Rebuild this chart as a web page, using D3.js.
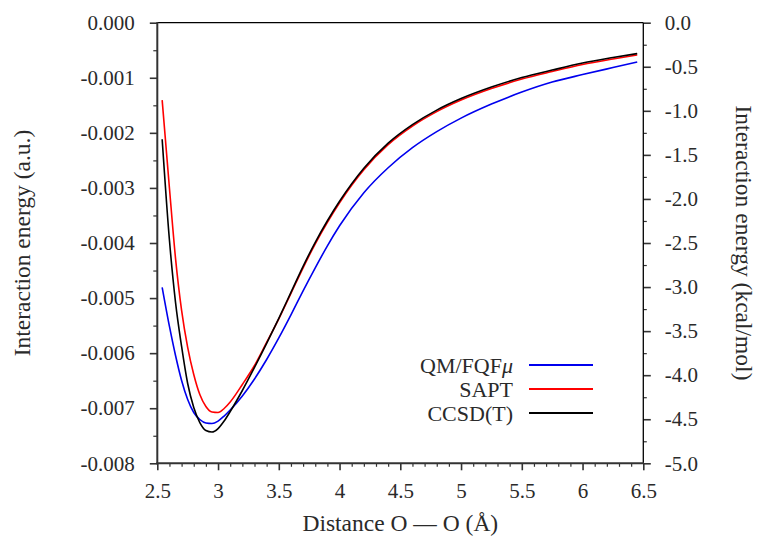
<!DOCTYPE html>
<html>
<head>
<meta charset="utf-8">
<script src="https://cdn.jsdelivr.net/npm/d3@7/dist/d3.min.js"></script>
<style>
  html, body { margin: 0; padding: 0; background: #fff; }
</style>
</head>
<body>
<svg id="chart" width="760" height="541"></svg>
<script>
// O–O distance grid (Å)
const distance = [2.54, 2.6, 2.65, 2.7, 2.75, 2.8, 2.85, 2.9, 2.95, 3.0, 3.05, 3.1, 3.2, 3.3, 3.4, 3.5,
  3.6, 3.7, 3.8, 3.9, 4.0, 4.2, 4.4, 4.6, 4.8, 5.0, 5.25, 5.5, 5.75, 6.0, 6.25, 6.45];

// Interaction energies (hartree)
const qmFqfmu = [-0.004805, -0.005515, -0.006042, -0.006496, -0.006842, -0.007078, -0.007205, -0.007269,
  -0.007278, -0.007233, -0.007142, -0.007033, -0.006778, -0.006469, -0.006115, -0.005724,
  -0.005305, -0.004869, -0.004451, -0.004051, -0.003687, -0.003087, -0.002633, -0.002269,
  -0.001978, -0.001733, -0.001478, -0.001260, -0.001078, -0.000942, -0.000815, -0.000715];

const sapt = [-0.001405, -0.003005, -0.004278, -0.005224, -0.005896, -0.006387, -0.006751, -0.006969,
  -0.007069, -0.007078, -0.007005, -0.006887, -0.006569, -0.006224, -0.005805, -0.005378,
  -0.004915, -0.004451, -0.004015, -0.003624, -0.003269, -0.002669, -0.002215, -0.001878,
  -0.001615, -0.001405, -0.001196, -0.001024, -0.000887, -0.000760, -0.000660, -0.000587];

const ccsdT = [-0.002115, -0.003951, -0.005078, -0.005878, -0.006551, -0.006987, -0.007260, -0.007405,
  -0.007433, -0.007369, -0.007233, -0.007060, -0.006678, -0.006260, -0.005824, -0.005369,
  -0.004896, -0.004424, -0.003987, -0.003596, -0.003242, -0.002642, -0.002187, -0.001851,
  -0.001587, -0.001378, -0.001169, -0.000996, -0.000860, -0.000733, -0.000633, -0.000560];

const seriesNames = ["QM/FQF", "SAPT", "CCSD(T)"];
const seriesColors = ["#0000ee", "#ff0000", "#000000"];

// Tick values and labels
const xTicks = [2.5, 3, 3.5, 4, 4.5, 5, 5.5, 6, 6.5];
const xTickLabels = ["2.5", "3", "3.5", "4", "4.5", "5", "5.5", "6", "6.5"];
const yTicks = [0, -0.001, -0.002, -0.003, -0.004, -0.005, -0.006, -0.007, -0.008];
const yTickLabels = ["0.000", "-0.001", "-0.002", "-0.003", "-0.004", "-0.005", "-0.006", "-0.007", "-0.008"];
const y2Ticks = [0, -0.5, -1, -1.5, -2, -2.5, -3, -3.5, -4, -4.5, -5];
const y2TickLabels = ["0.0", "-0.5", "-1.0", "-1.5", "-2.0", "-2.5", "-3.0", "-3.5", "-4.0", "-4.5", "-5.0"];

const FONT = "'Liberation Serif', 'DejaVu Serif', 'Noto Serif', serif";
const tickFontSize = 21;
const titleFontSize = 23.5;
const legendFontSize = 22;

const plot = { left: 157.3, right: 643.3, top: 22.7, bottom: 463.3 };

const svg = d3.select("#chart");

const x = d3.scaleLinear().domain([2.5, 6.5]).range([plot.left, plot.right]);
const y = d3.scaleLinear().domain([-0.008, 0]).range([plot.bottom, plot.top]);
const y2 = d3.scaleLinear().domain([-5, 0]).range([plot.bottom, plot.top]);

// minor ticks
const xMinor = d3.range(25, 66).map(d => d / 10).filter(d => !xTicks.some(t => Math.abs(t - d) < 1e-9));
const yMinor = d3.range(0, 17).map(d => -d * 0.0005).filter((d, i) => i % 2 === 1);
const y2Minor = d3.range(0, 21).map(d => -d * 0.25).filter((d, i) => i % 2 === 1);

function styleTicks(g, width) {
  g.attr("font-family", FONT);
  g.select(".domain").remove();
  g.selectAll(".tick line").attr("stroke", "#333").attr("stroke-width", width);
  g.selectAll("text").attr("font-size", tickFontSize).attr("fill", "#2a2a2a").style("font-family", FONT);
}

// bottom axis
svg.append("g").attr("transform", `translate(0,${plot.bottom})`)
  .call(d3.axisBottom(x).tickValues(xMinor).tickSize(3.5).tickFormat(""))
  .call(g => styleTicks(g, 1.2));
svg.append("g").attr("transform", `translate(0,${plot.bottom})`)
  .call(d3.axisBottom(x).tickValues(xTicks).tickSize(7).tickPadding(13)
    .tickFormat((d, i) => xTickLabels[i]))
  .call(g => styleTicks(g, 1.6));

// left axis
svg.append("g").attr("transform", `translate(${plot.left},0)`)
  .call(d3.axisLeft(y).tickValues(yMinor).tickSize(4).tickFormat(""))
  .call(g => styleTicks(g, 1.2));
svg.append("g").attr("transform", `translate(${plot.left},0)`)
  .call(d3.axisLeft(y).tickValues(yTicks).tickSize(7.5).tickPadding(15)
    .tickFormat((d, i) => yTickLabels[i]))
  .call(g => styleTicks(g, 1.6));

// right axis
svg.append("g").attr("transform", `translate(${plot.right},0)`)
  .call(d3.axisRight(y2).tickValues(y2Minor).tickSize(3.5).tickFormat(""))
  .call(g => styleTicks(g, 1.2));
svg.append("g").attr("transform", `translate(${plot.right},0)`)
  .call(d3.axisRight(y2).tickValues(y2Ticks).tickSize(7.5).tickPadding(14)
    .tickFormat((d, i) => y2TickLabels[i]))
  .call(g => styleTicks(g, 1.6));

// plot frame
const frame = svg.append("g").attr("fill", "none");
frame.append("line").attr("x1", plot.left).attr("x2", plot.right).attr("y1", plot.top).attr("y2", plot.top)
  .attr("stroke", "#000").attr("stroke-width", 1.3);
frame.append("line").attr("x1", plot.right).attr("x2", plot.right).attr("y1", plot.top).attr("y2", plot.bottom)
  .attr("stroke", "#000").attr("stroke-width", 1.3);
frame.append("line").attr("x1", plot.left).attr("x2", plot.left).attr("y1", plot.top - 0.7).attr("y2", plot.bottom + 1)
  .attr("stroke", "#333").attr("stroke-width", 2);
frame.append("line").attr("x1", plot.left - 1).attr("x2", plot.right + 0.7).attr("y1", plot.bottom).attr("y2", plot.bottom)
  .attr("stroke", "#333").attr("stroke-width", 2);

// curves
const line = d3.line().x(d => x(d[0])).y(d => y(d[1])).curve(d3.curveMonotoneX);
[qmFqfmu, sapt, ccsdT].forEach((vals, k) => {
  svg.append("path")
    .datum(distance.map((d, i) => [d, vals[i]]))
    .attr("fill", "none")
    .attr("stroke", seriesColors[k])
    .attr("stroke-width", 1.6)
    .attr("stroke-linejoin", "round")
    .attr("d", line);
});

// legend
const legend = svg.append("g").style("font-family", FONT);
const legendRowY = [365, 389, 413];
seriesNames.forEach((name, k) => {
  const t = legend.append("text")
    .attr("x", 513).attr("y", legendRowY[k] + 8)
    .attr("text-anchor", "end")
    .attr("font-size", legendFontSize).attr("fill", "#2a2a2a")
    .style("font-family", FONT);
  t.append("tspan").text(name);
  if (k === 0) t.append("tspan").attr("font-style", "italic").text("μ");
  legend.append("line")
    .attr("x1", 529).attr("x2", 593)
    .attr("y1", legendRowY[k]).attr("y2", legendRowY[k])
    .attr("stroke", seriesColors[k]).attr("stroke-width", 2);
});

// axis titles
const titles = svg.append("g").attr("fill", "#2a2a2a").attr("font-size", titleFontSize).style("font-family", FONT);
titles.append("text")
  .attr("transform", `translate(30,${(plot.top + plot.bottom) / 2}) rotate(-90)`)
  .attr("text-anchor", "middle").style("font-family", FONT)
  .text("Interaction energy (a.u.)");
titles.append("text")
  .attr("transform", `translate(736,${(plot.top + plot.bottom) / 2}) rotate(90)`)
  .attr("text-anchor", "middle").style("font-family", FONT)
  .text("Interaction energy (kcal/mol)");
titles.append("text")
  .attr("x", (plot.left + plot.right) / 2).attr("y", 531)
  .attr("text-anchor", "middle").style("font-family", FONT)
  .text("Distance O — O (Å)");
</script>
</body>
</html>
